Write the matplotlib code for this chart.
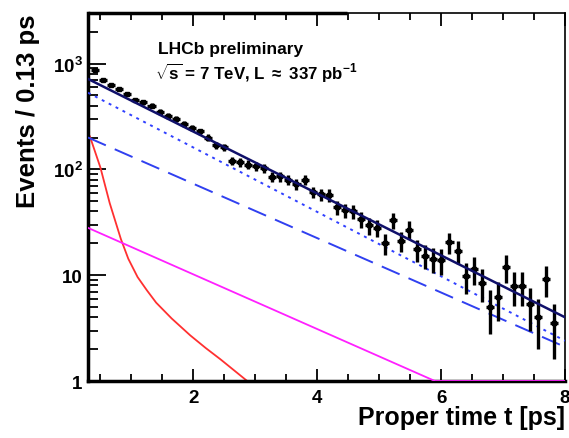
import numpy as np
import matplotlib
matplotlib.use("Agg")
import matplotlib.pyplot as plt
from matplotlib.ticker import FixedLocator, NullFormatter

plt.rcParams['font.family'] = ['Liberation Sans', 'DejaVu Sans']
plt.rcParams['font.weight'] = 'bold'
plt.rcParams['mathtext.fontset'] = 'custom'
plt.rcParams['mathtext.rm'] = 'Liberation Sans:bold'
plt.rcParams['mathtext.it'] = 'Liberation Sans:bold:italic'
plt.rcParams['mathtext.bf'] = 'Liberation Sans:bold'
plt.rcParams['mathtext.default'] = 'rm'

# ---- data ----
bin_width = 0.13
first_center = 0.415
counts = [870, 700, 625, 575, 520, 455, 430, 400, 350, 320,
          300, 270, 245, 228, 200, 170, 162, 120, 117, 111,
          107, 102, 85, 86, 80, 72, 80, 61, 58, 57,
          44, 41, 40, 34, 29.5, 28, 20, 33, 21, 27,
          17.5, 15.3, 14.3, 13.8, 20.4, 17, 9.8, 11.4, 8.5, 5.0,
          6.2, 11.9, 7.9, 7.9, 5.3, 4.0, 9.2, 3.5]
centers = [first_center + bin_width * i for i in range(len(counts))]

total_t = [0.3, 8.0]
total_v = [715, 4.0]
dotted_t = [0.3, 8.0]
dotted_v = [530, 2.4]
dashed_t = [0.3, 8.0]
dashed_v = [200, 2.1]
red_t = [0.33, 0.5, 0.65, 0.83, 0.95, 1.1, 1.25, 1.4, 1.65, 1.95, 2.2, 2.44, 2.87, 8.0]
red_v = [205, 104, 48, 22, 14.3, 9.6, 7.2, 5.5, 3.9, 2.7, 2.05, 1.6, 1.0, 1.0]
mag_t = [0.3, 5.9, 8.0]
mag_v = [28, 1.0, 1.0]

xticks = [2, 4, 6, 8]
yticks = [1, 10, 100, 1000]
ytick_labels = ['1', '10', '10$^{2}$', '10$^{3}$']

fig = plt.figure(figsize=(5.69, 4.39), dpi=100)
ax = fig.add_axes([0.1547, 0.1298, 0.8383, 0.8382])

ax.set_yscale('log')
ax.set_xlim(0.3, 8.0)
ax.set_ylim(1, 3000)

ax.plot(red_t, red_v, color='#ff3030', lw=1.3, zorder=2)
ax.plot(mag_t, mag_v, color='#ff20ff', lw=1.3, zorder=3)
ax.plot(dashed_t, dashed_v, color='#3040f0', lw=1.4, dashes=(10, 5), zorder=3)
ax.plot(dotted_t, dotted_v, color='#3040ff', lw=1.4, dashes=(1.5, 2.5), zorder=3)

cnt = np.array(counts, dtype=float)
ax.errorbar(centers, cnt, xerr=bin_width / 2, yerr=np.sqrt(cnt),
            fmt='s', ms=2.5, color='black', ecolor='black', elinewidth=2.4,
            capsize=0, zorder=4)
ax.plot(total_t, total_v, color='#10106a', lw=1.8, zorder=5)

# axes styling
for s in ['left', 'bottom']:
    ax.spines[s].set_linewidth(2.5)
for s in ['top', 'right']:
    ax.spines[s].set_linewidth(1.2)
ax.plot([0, 0.543], [1, 1], transform=ax.transAxes, color='black', lw=2.5,
        clip_on=False, zorder=6, solid_capstyle='butt')

ax.xaxis.set_major_locator(FixedLocator(xticks))
ax.xaxis.set_minor_locator(FixedLocator(np.arange(0.5, 8.01, 0.5)))
ax.set_xticklabels([str(v) for v in xticks])
ax.yaxis.set_major_locator(FixedLocator(yticks))
ax.set_yticklabels(ytick_labels)
ax.yaxis.set_minor_formatter(NullFormatter())

ax.tick_params(axis='both', which='both', direction='in', top=True, right=False,
               width=1.3)
ax.tick_params(axis='x', which='major', length=9, labelsize=13.5, pad=6)
ax.tick_params(axis='x', which='minor', length=5)
ax.tick_params(axis='y', which='major', length=13, labelsize=13.5, pad=4)
ax.tick_params(axis='y', which='minor', length=7)

ax.set_xlabel('Proper time t [ps]', fontsize=18, loc='right', labelpad=-1,
              fontweight='bold')
ax.set_ylabel('Events / 0.13 ps', fontsize=18.5, loc='top', labelpad=9,
              fontweight='bold')

ax.text(0.147, 0.905, 'LHCb preliminary', transform=ax.transAxes,
        fontsize=12.5, va='center', ha='left', fontweight='bold')
ax.text(0.14, 0.838, r'$\sqrt{s}$ = 7 TeV, L $\approx$ 337 pb$^{-1}$',
        transform=ax.transAxes, fontsize=12.2, va='center', ha='left',
        fontweight='bold')

fig.savefig('out.png', dpi=100)
